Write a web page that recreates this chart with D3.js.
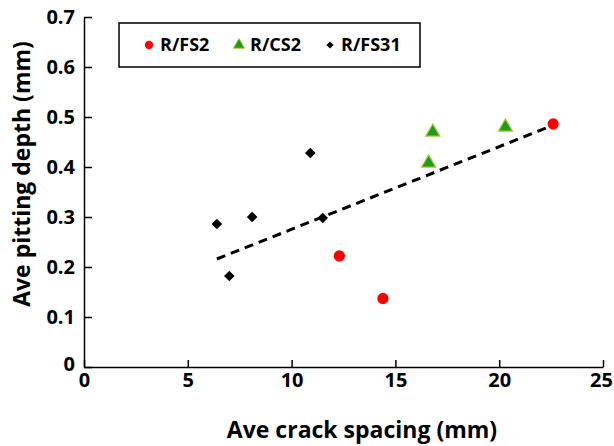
<!DOCTYPE html>
<html>
<head>
<meta charset="utf-8">
<script src="https://cdn.jsdelivr.net/npm/d3@7"></script>
<style>
  body { margin: 0; background: #fff; }
  svg text { font-family: "Open Sans", "DejaVu Sans", sans-serif; font-weight: bold; }
</style>
</head>
<body>
<div id="chart"></div>
<script>
// data
const fs2X = [12.3, 14.4, 22.6];
const fs2Y = [0.222, 0.137, 0.486];
const cs2X = [16.8, 16.6, 20.3];
const cs2Y = [0.47, 0.408, 0.48];
const fs31X = [6.4, 7.0, 8.1, 10.9, 11.5];
const fs31Y = [0.286, 0.182, 0.30, 0.428, 0.298];
const trendX = [6.4, 22.5];
const trendY = [0.216, 0.482];
const xTicks = [0, 5, 10, 15, 20, 25];
const yTicks = [0, 0.1, 0.2, 0.3, 0.4, 0.5, 0.6, 0.7];
const seriesNames = ["R/FS2", "R/CS2", "R/FS31"];

let width = 614, height = 446;
let margin = { left: 84, right: 11, top: 17, bottom: 79 };

let svg = d3.select("#chart").append("svg")
  .attr("width", width)
  .attr("height", height);

let x = d3.scaleLinear().domain([0, 25]).range([margin.left, width - margin.right]);
let y = d3.scaleLinear().domain([0, 0.7]).range([height - margin.bottom, margin.top]);

// axes, ticks point inward
let xAxis = svg.append("g")
  .attr("transform", "translate(0," + y(0) + ")")
  .call(d3.axisBottom(x).tickValues(xTicks).tickSizeInner(-7).tickSizeOuter(0).tickFormat(d3.format("d")));
xAxis.selectAll("text").attr("dy", "0.71em").attr("y", 6).style("font-size", "20px").attr("fill", "#000");
// keep the last label inside the page
xAxis.selectAll(".tick text").filter(d => d === 25).attr("x", -2);

let yAxis = svg.append("g")
  .attr("transform", "translate(" + x(0) + ",0)")
  .call(d3.axisLeft(y).tickValues(yTicks).tickSizeInner(-8).tickSizeOuter(0)
    .tickFormat(d => d === 0 ? "0" : d3.format(".1f")(d)));
yAxis.selectAll("text").attr("x", -9).style("font-size", "20px").attr("fill", "#000");
yAxis.select(".tick text").attr("dy", "0.15em");

svg.selectAll(".domain").attr("stroke", "#000").attr("stroke-width", 1.5);
svg.selectAll(".tick line").attr("stroke", "#000").attr("stroke-width", 1.5);

// axis titles
svg.append("text")
  .attr("x", 362).attr("y", 438)
  .attr("text-anchor", "middle")
  .style("font-size", "23px")
  .text("Ave crack spacing (mm)");

svg.append("text")
  .attr("transform", "translate(30," + 174 + ") rotate(-90)")
  .attr("text-anchor", "middle")
  .style("font-size", "23px")
  .text("Ave pitting depth (mm)");

// trend line
svg.append("line")
  .attr("x1", x(trendX[0])).attr("y1", y(trendY[0]))
  .attr("x2", x(trendX[1])).attr("y2", y(trendY[1]))
  .attr("stroke", "#000")
  .attr("stroke-width", 3)
  .attr("stroke-dasharray", "9,6");

let circle = d3.symbol().type(d3.symbolCircle).size(100);
let tri = d3.symbol().type(d3.symbolTriangle).size(85);
let diamond = d3.symbol().type(d3.symbolSquare).size(56);

// R/FS31
svg.selectAll(".fs31").data(fs31X).enter().append("path")
  .attr("class", "fs31")
  .attr("d", diamond)
  .attr("transform", (d, i) => "translate(" + x(d) + "," + y(fs31Y[i]) + ") rotate(45)")
  .attr("fill", "#000");

// R/FS2
svg.selectAll(".fs2").data(fs2X).enter().append("path")
  .attr("class", "fs2")
  .attr("d", circle)
  .attr("transform", (d, i) => "translate(" + x(d) + "," + y(fs2Y[i]) + ")")
  .attr("fill", "#ff0000");

// R/CS2
svg.selectAll(".cs2").data(cs2X).enter().append("path")
  .attr("class", "cs2")
  .attr("d", tri)
  .attr("transform", (d, i) => "translate(" + x(d) + "," + y(cs2Y[i]) + ")")
  .attr("fill", "#1e9a1e")
  .attr("stroke", "#a8c832")
  .attr("stroke-width", 1.2);

// legend
let legend = svg.append("g");
legend.append("rect")
  .attr("x", 119).attr("y", 23).attr("width", 301).attr("height", 44)
  .attr("fill", "#fff").attr("stroke", "#000").attr("stroke-width", 1.5);

let legX = [149, 239, 330];
let legShapes = [
  { d: d3.symbol().type(d3.symbolCircle).size(55)(), fill: "#ff0000", stroke: "none", rot: 0 },
  { d: d3.symbol().type(d3.symbolTriangle).size(55)(), fill: "#1e9a1e", stroke: "#a8c832", rot: 0 },
  { d: d3.symbol().type(d3.symbolSquare).size(26)(), fill: "#000", stroke: "none", rot: 45 }
];
seriesNames.forEach((name, i) => {
  legend.append("path")
    .attr("d", legShapes[i].d)
    .attr("transform", "translate(" + legX[i] + ",45) rotate(" + legShapes[i].rot + ")")
    .attr("fill", legShapes[i].fill)
    .attr("stroke", legShapes[i].stroke);
  legend.append("text")
    .attr("x", legX[i] + 11).attr("y", 51)
    .style("font-size", "18px")
    .text(name);
});
</script>
</body>
</html>
